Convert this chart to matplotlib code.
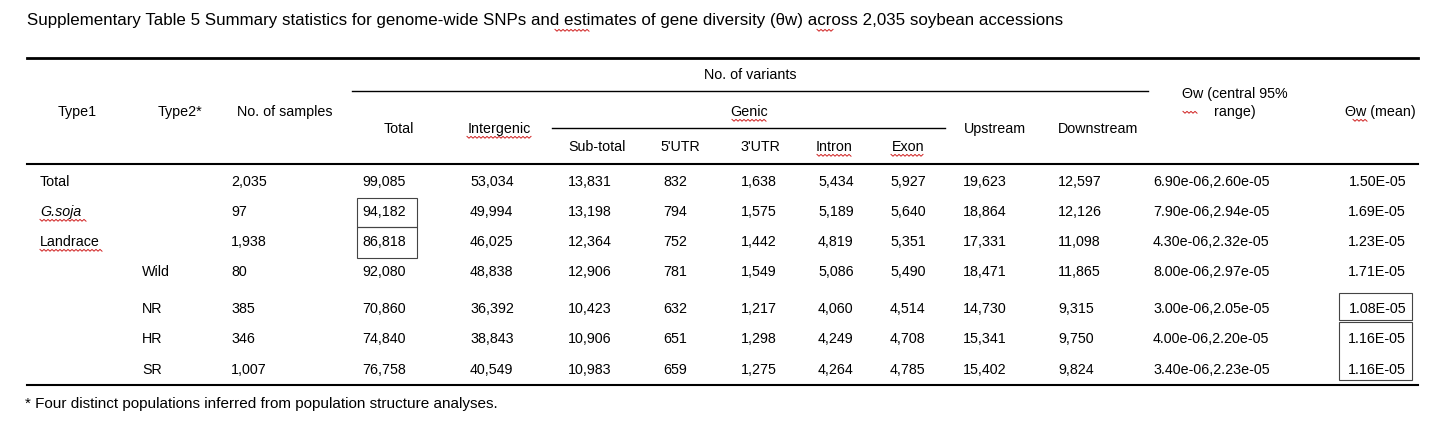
import matplotlib.pyplot as plt
from matplotlib.patches import Rectangle

plt.rcParams['font.family'] = ['Liberation Sans', 'DejaVu Sans']

title = "Supplementary Table 5 Summary statistics for genome-wide SNPs and estimates of gene diversity (θw) across 2,035 soybean accessions"
footnote = "* Four distinct populations inferred from population structure analyses."

type1 = ["Total", "G.soja", "Landrace", "", "", "", ""]
type2 = ["", "", "", "Wild", "NR", "HR", "SR"]
samples = ["2,035", "97", "1,938", "80", "385", "346", "1,007"]
total = ["99,085", "94,182", "86,818", "92,080", "70,860", "74,840", "76,758"]
intergenic = ["53,034", "49,994", "46,025", "48,838", "36,392", "38,843", "40,549"]
subtotal = ["13,831", "13,198", "12,364", "12,906", "10,423", "10,906", "10,983"]
utr5 = ["832", "794", "752", "781", "632", "651", "659"]
utr3 = ["1,638", "1,575", "1,442", "1,549", "1,217", "1,298", "1,275"]
intron = ["5,434", "5,189", "4,819", "5,086", "4,060", "4,249", "4,264"]
exon = ["5,927", "5,640", "5,351", "5,490", "4,514", "4,708", "4,785"]
upstream = ["19,623", "18,864", "17,331", "18,471", "14,730", "15,341", "15,402"]
downstream = ["12,597", "12,126", "11,098", "11,865", "9,315", "9,750", "9,824"]
theta_range = ["6.90e-06,2.60e-05", "7.90e-06,2.94e-05", "4.30e-06,2.32e-05",
               "8.00e-06,2.97e-05", "3.00e-06,2.05e-05", "4.00e-06,2.20e-05",
               "3.40e-06,2.23e-05"]
theta_mean = ["1.50E-05", "1.69E-05", "1.23E-05", "1.71E-05", "1.08E-05", "1.16E-05", "1.16E-05"]

W, H = 1441, 433
fig = plt.figure(figsize=(W / 100, H / 100), dpi=100)
ax = fig.add_axes([0, 0, 1, 1])
ax.set_xlim(0, W)
ax.set_ylim(H, 0)
ax.axis('off')

FS = 10.3


def squiggle(x0, x1, y):
    xs, ys = [], []
    x, k = x0, 0
    while x <= x1:
        xs.append(x)
        ys.append(y + (1.2 if k % 2 else -0.6))
        x += 2
        k += 1
    ax.plot(xs, ys, color='#d02020', lw=0.7)


ax.text(27, 21, title, fontsize=12.2, va='center', ha='left')
squiggle(555, 590, 30)
squiggle(817, 834, 30)

# rules
ax.plot([27, 1418], [58, 58], color='black', lw=2)
ax.plot([352, 1148], [91, 91], color='black', lw=1)
ax.plot([552, 945], [128, 128], color='black', lw=1)
ax.plot([27, 1418], [164, 164], color='black', lw=1.5)
ax.plot([27, 1418], [385, 385], color='black', lw=1.5)

# headers
ax.text(750, 75, "No. of variants", fontsize=FS, ha='center', va='center')
ax.text(749, 112, "Genic", fontsize=FS, ha='center', va='center')
squiggle(732, 766, 120)
for x, s in [(77, "Type1"), (180, "Type2*"), (285, "No. of samples"), (1380, "Θw (mean)")]:
    ax.text(x, 112, s, fontsize=FS, ha='center', va='center')
squiggle(1353, 1368, 120)
ax.text(1235, 103, "Θw (central 95%\nrange)", fontsize=FS, ha='center', va='center',
        linespacing=1.3)
squiggle(1183, 1198, 112)
for x, s in [(399, "Total"), (499, "Intergenic"), (995, "Upstream"), (1098, "Downstream")]:
    ax.text(x, 129, s, fontsize=FS, ha='center', va='center')
squiggle(467, 531, 137)
for x, s in [(597, "Sub-total"), (680, "5'UTR"), (760, "3'UTR"), (834, "Intron"), (908, "Exon")]:
    ax.text(x, 147, s, fontsize=FS, ha='center', va='center')
squiggle(817, 852, 155)
squiggle(891, 924, 155)

# body
row_y = [182, 212, 242, 272, 309, 339, 370]
cols = [(40, type1), (142, type2), (231, samples), (362, total), (470, intergenic),
        (568, subtotal), (663, utr5), (741, utr3), (818, intron), (890, exon),
        (963, upstream), (1058, downstream), (1153, theta_range)]
for i, y in enumerate(row_y):
    for x, vals in cols:
        style = 'italic' if vals is type1 and vals[i] == "G.soja" else 'normal'
        ax.text(x, y, vals[i], fontsize=FS, ha='left', va='center', style=style)
    ax.text(1406, y, theta_mean[i], fontsize=FS, ha='right', va='center')
squiggle(40, 87, 220)
squiggle(40, 103, 250)

for y0, y1 in [(198, 227), (227, 258)]:
    ax.add_patch(Rectangle((357, y0), 60, y1 - y0, fill=False, lw=0.8, ec='#444444'))
for y0, y1 in [(293, 320), (322, 380)]:
    ax.add_patch(Rectangle((1339, y0), 73, y1 - y0, fill=False, lw=0.8, ec='#444444'))

ax.text(25, 404, footnote, fontsize=11, ha='left', va='center')

fig.savefig('out.png', dpi=100)
